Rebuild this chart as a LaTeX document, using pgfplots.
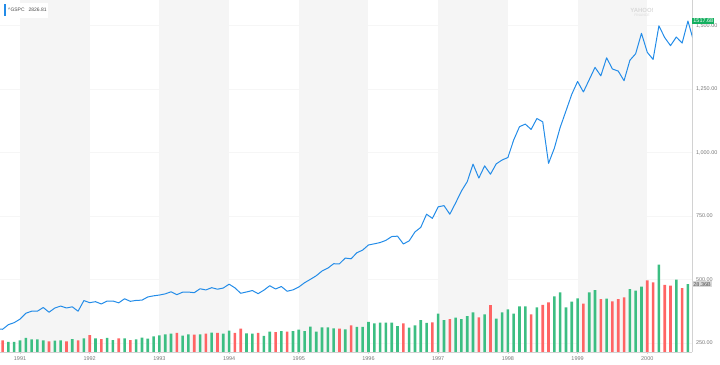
\documentclass[border=0pt]{standalone}
\usepackage{fontspec}
\setmainfont{Liberation Sans}
\usepackage{pgfplots}
\pgfplotsset{compat=1.18}
\definecolor{lineblue}{RGB}{35,140,232}
\definecolor{upgreen}{RGB}{60,190,130}
\definecolor{downred}{RGB}{255,100,100}
\definecolor{band}{RGB}{245,245,245}
\definecolor{labgray}{RGB}{120,120,120}
\definecolor{axgray}{RGB}{210,210,210}
\definecolor{tagGreen}{RGB}{20,175,95}

\pgfplotstableread{
x close
8 306.05
9 304.00
10 322.22
11 330.22
12 343.93
13 367.07
14 375.22
15 375.35
16 389.83
17 371.16
18 387.81
19 395.43
20 387.86
21 392.45
22 375.22
23 417.09
24 408.79
25 412.70
26 403.69
27 414.95
28 415.35
29 408.14
30 424.21
31 414.03
32 417.80
33 418.68
34 431.35
35 435.71
36 438.78
37 443.38
38 451.67
39 440.19
40 450.19
41 450.53
42 448.13
43 463.56
44 458.93
45 467.83
46 461.79
47 466.45
48 481.61
49 467.14
50 445.77
51 450.91
52 456.50
53 444.27
54 458.26
55 475.49
56 462.69
57 472.35
58 453.69
59 459.27
60 470.42
61 487.39
62 500.71
63 514.71
64 533.40
65 544.75
66 562.06
67 561.88
68 584.41
69 581.50
70 605.37
71 615.93
72 636.02
73 640.43
74 645.50
75 654.17
76 669.12
77 670.63
78 639.95
79 651.99
80 687.31
81 705.27
82 757.02
83 740.74
84 786.16
85 790.82
86 757.12
87 801.34
88 848.28
89 885.14
90 954.29
91 899.47
92 947.28
93 914.62
94 955.40
95 970.43
96 980.28
97 1049.34
98 1101.75
99 1111.75
100 1090.82
101 1133.84
102 1120.67
103 957.28
104 1017.01
105 1098.67
106 1163.63
107 1229.23
108 1279.64
109 1238.33
110 1286.37
111 1335.18
112 1301.84
113 1372.71
114 1328.72
115 1320.41
116 1282.71
117 1362.93
118 1388.91
119 1469.25
120 1394.46
121 1366.42
122 1498.58
123 1452.43
124 1420.60
125 1454.60
126 1430.83
127 1517.68
128 1436.51
}\pricedata

\pgfplotstableread{
x vol
10 4.2
11 4.2
12 4.9
13 5.9
14 5.3
15 5.3
16 4.9
18 4.8
19 4.9
21 5.4
23 5.7
25 5.7
27 5.9
28 5.0
30 5.7
32 5.3
33 6.0
34 5.6
35 6.5
36 7.0
37 7.4
38 7.7
40 6.9
41 7.4
43 7.4
45 8.1
47 7.7
48 9.0
51 7.8
52 7.7
54 6.7
55 8.5
57 8.7
59 8.7
60 9.4
61 8.7
62 10.6
63 8.5
64 10.3
65 10.3
66 9.9
68 9.5
70 10.5
71 10.5
72 12.6
73 12.0
74 12.3
75 12.3
76 12.3
77 10.8
79 10.2
80 11.1
81 13.3
82 12.2
84 16.1
85 13.3
87 14.4
88 13.8
89 15.0
90 16.6
92 15.8
94 14.0
95 16.6
96 17.8
97 16.1
98 19.1
99 19.1
101 18.7
104 23.3
105 25.0
106 18.7
107 21.1
108 22.5
110 25.0
111 25.9
113 22.4
117 26.3
118 25.7
119 27.4
122 36.6
125 30.3
127 28.4
}\volup

\pgfplotstableread{
x vol
9 4.9
17 4.5
20 4.5
22 4.9
24 7.1
26 5.4
29 5.7
31 5.0
39 8.0
42 7.3
44 7.7
46 8.0
49 8.0
50 9.8
53 8.0
56 8.3
58 8.5
67 9.8
69 11.1
78 12.0
83 12.4
86 13.8
91 14.5
93 19.6
100 15.8
102 19.7
103 20.8
109 20.3
112 22.1
114 21.2
115 22.1
116 22.9
120 30.0
121 29.2
123 28.1
124 27.8
126 26.7
}\voldown

\begin{document}
\begin{tikzpicture}
\useasboundingbox (0,-13bp) rectangle (720bp,352bp);
\begin{axis}[name=main, at={(0,0)}, anchor=south west,
  width=692bp, height=352bp, scale only axis,
  xmin=8.556, xmax=127.70, ymin=214.6, ymax=1600.4,
  axis x line*=bottom, axis y line*=right,
  axis line style={axgray, line width=0.6bp},
  xtick={12,24,36,48,60,72,84,96,108,120},
  xticklabels={1991,1992,1993,1994,1995,1996,1997,1998,1999,2000},
  tick align=outside, major tick length=2bp,
  xtick style={axgray, line width=0.6bp},
  ytick={250,500,750,1000,1250,1500},
  ytick style={draw=none},
  ymajorgrids, grid style={gray!7, line width=0.5bp},
  ticklabel style={font=\fontsize{5.5}{6}\selectfont, text=labgray},
  yticklabel style={anchor=west, xshift=-1.5bp, /pgf/number format/fixed, /pgf/number format/fixed zerofill, /pgf/number format/precision=2, /pgf/number format/1000 sep={,}, /pgf/number format/assume math mode=true},
  xticklabel style={/pgf/number format/assume math mode=true, yshift=1bp},
  clip mode=individual,
]
\fill[band] (axis cs:12,214.6) rectangle (axis cs:24,1600.4);
\fill[band] (axis cs:36,214.6) rectangle (axis cs:48,1600.4);
\fill[band] (axis cs:60,214.6) rectangle (axis cs:72,1600.4);
\fill[band] (axis cs:84,214.6) rectangle (axis cs:96,1600.4);
\fill[band] (axis cs:108,214.6) rectangle (axis cs:120,1600.4);
\addplot[lineblue, line width=1.0bp, mark=none, line join=round] table[x=x, y=close] {\pricedata};
\coordinate (plast) at (axis cs:127,1517.68);
\end{axis}
\begin{axis}[at={(0,0)}, anchor=south west,
  width=692bp, height=352bp, scale only axis,
  xmin=8.556, xmax=127.70, ymin=0, ymax=147.4,
  hide axis, ybar, bar width=2.6bp, clip mode=individual]
\addplot[fill=upgreen, draw=none, bar shift=0pt] table[x=x, y=vol] {\volup};
\addplot[fill=downred, draw=none, bar shift=0pt] table[x=x, y=vol] {\voldown};
\coordinate (vlast) at (axis cs:127,28.36);
\end{axis}
% labels
\fill[white] (2bp,334bp) rectangle (48bp,349bp);
\fill[lineblue] (4bp,336bp) rectangle (5.5bp,348bp);
\node[anchor=west, inner sep=0pt, font=\fontsize{5}{6}\selectfont, text=black!70] at (8bp,342bp) {\textasciicircum GSPC\hspace{4bp}2826.81};
\node[text=gray!30, font=\fontsize{6}{6}\selectfont\bfseries, inner sep=0pt] at (642bp,342bp) {YAHOO!};
\node[text=gray!30, font=\fontsize{3.5}{4}\selectfont, inner sep=0pt] at (642bp,337bp) {FINANCE};
\node[fill=tagGreen, text=white, anchor=west, inner sep=1.2bp, font=\fontsize{5.5}{6}\selectfont] at (plast -| main.south east) {1517.68};
\node[fill=gray!30, text=black!70, anchor=west, inner sep=1.2bp, font=\fontsize{5.5}{6}\selectfont] at (vlast -| main.south east) {28.36B};
\end{tikzpicture}
\end{document}
